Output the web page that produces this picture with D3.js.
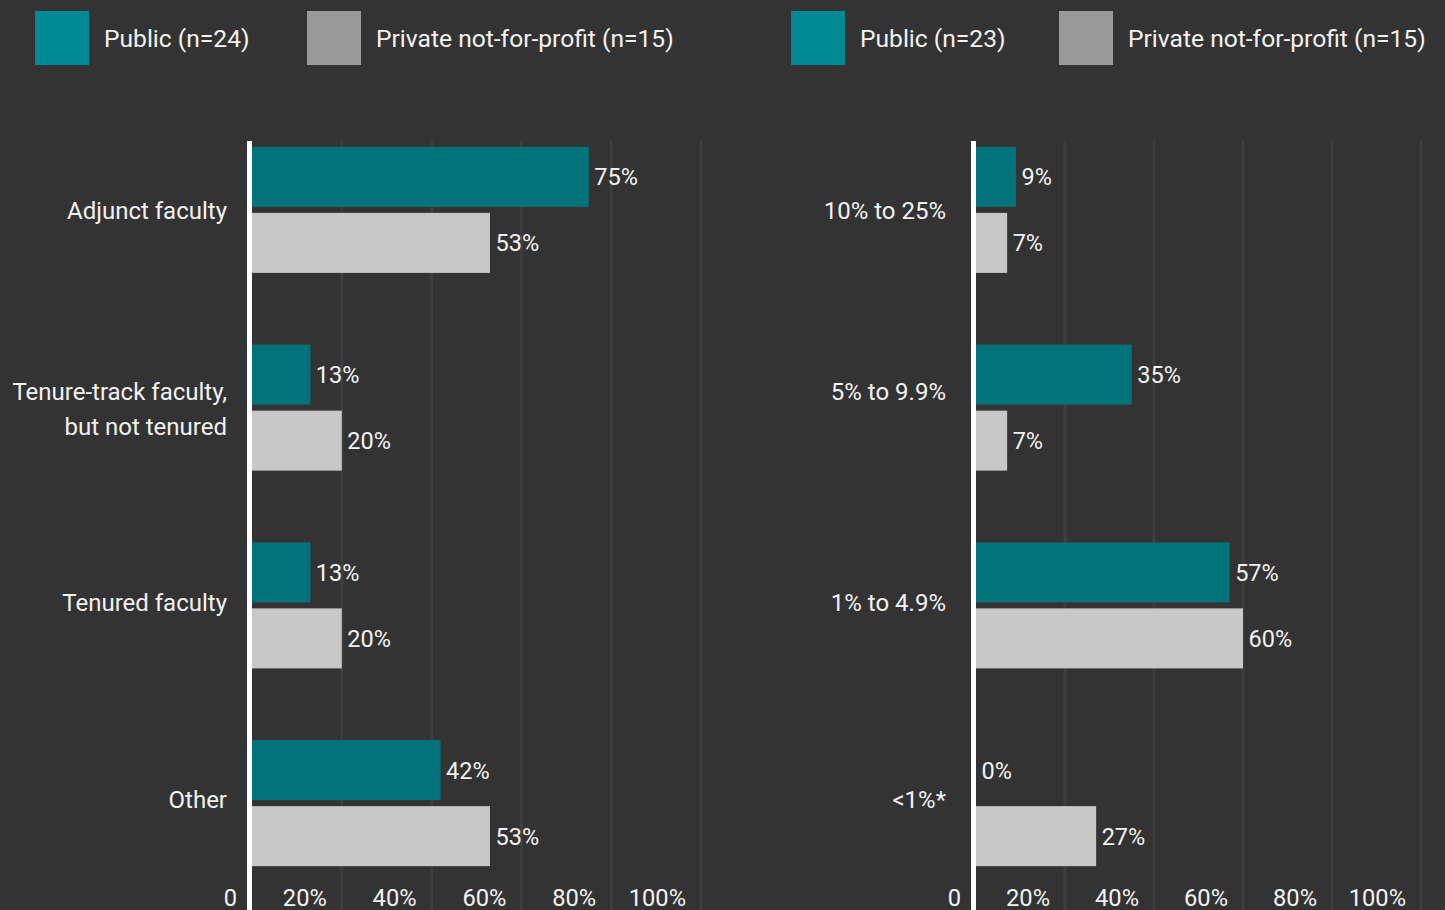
<!DOCTYPE html>
<html>
<head>
<meta charset="utf-8">
<script src="https://cdn.jsdelivr.net/npm/d3@7"></script>
<style>
  html, body { margin: 0; padding: 0; background: #333333; }
  svg { display: block; font-family: Roboto, "Noto Sans", sans-serif; }
</style>
</head>
<body>
<div id="chart"></div>
<script>
// Данные: левая панель
const leftCategories = ["Adjunct faculty", "Tenure-track faculty,\nbut not tenured", "Tenured faculty", "Other"];
const leftPublic = [75, 13, 13, 42];
const leftPrivate = [53, 20, 20, 53];
const leftSeries = ["Public (n=24)", "Private not-for-profit (n=15)"];

// Данные: правая панель
const rightCategories = ["10% to 25%", "5% to 9.9%", "1% to 4.9%", "<1%*"];
const rightPublic = [9, 35, 57, 0];
const rightPrivate = [7, 7, 60, 27];
const rightSeries = ["Public (n=23)", "Private not-for-profit (n=15)"];

const tickValues = [0, 20, 40, 60, 80, 100];
const tickLabels = ["0", "20%", "40%", "60%", "80%", "100%"];

const barColors = ["#02737A", "#C8C8C8"];
const legendColors = ["#008A93", "#999999"];

// Смещение подписей категорий относительно центра группы
const labelShift = [0, -16, -3.5, -3.5];

const width = 1445;
const height = 910;

const svg = d3.select('#chart').append('svg')
    .attr('width', width)
    .attr('height', height);

svg.append('rect')
    .attr('width', width)
    .attr('height', height)
    .attr('fill', '#333333');

// Функция для рисования одной панели
function drawPanel(opts) {
    const g = svg.append('g');
    const keys = ['pub', 'priv'];
    const rows = opts.categories.map((c, i) => ({cat: c, idx: i, pub: opts.pub[i], priv: opts.priv[i]}));

    const x = d3.scaleLinear().domain([0, 100]).range([opts.x0, opts.x1]);

    const y = d3.scaleBand()
        .domain(opts.categories)
        .range([111, 902])
        .paddingInner(0.3626)
        .paddingOuter(0.1813);

    const yInner = d3.scaleBand()
        .domain(keys)
        .range([0, y.bandwidth()])
        .paddingInner(6 / 66);

    // сетка
    g.selectAll('.grid')
        .data(tickValues.slice(1))
        .enter()
        .append('line')
        .attr('x1', d => x(d))
        .attr('x2', d => x(d))
        .attr('y1', 141)
        .attr('y2', height)
        .style('stroke', '#3E3E3E')
        .style('stroke-width', 3);

    // подписи оси X
    g.selectAll('.x-label')
        .data(tickValues)
        .enter()
        .append('text')
        .attr('x', d => x(d) - 15)
        .attr('y', 906)
        .attr('text-anchor', 'end')
        .text((d, i) => tickLabels[i])
        .style('fill', '#F2F2F2')
        .style('font-size', '23.7px');

    // столбцы
    const groups = g.selectAll('.grp')
        .data(rows)
        .enter()
        .append('g')
        .attr('transform', d => `translate(0,${y(d.cat)})`);

    groups.selectAll('rect')
        .data(d => keys.map((k, i) => ({k, i, v: d[k]})))
        .enter()
        .append('rect')
        .attr('x', x(0))
        .attr('y', d => yInner(d.k))
        .attr('width', d => x(d.v) - x(0))
        .attr('height', yInner.bandwidth())
        .attr('fill', d => barColors[d.i]);

    groups.selectAll('.val')
        .data(d => keys.map((k, i) => ({k, i, v: d[k]})))
        .enter()
        .append('text')
        .attr('x', d => x(d.v) + 5.5)
        .attr('y', d => yInner(d.k) + yInner.bandwidth() / 2)
        .attr('dy', '0.36em')
        .text(d => d.v + '%')
        .style('fill', '#F2F2F2')
        .style('font-size', '23.5px');

    // подписи категорий
    groups.append('text')
        .attr('text-anchor', 'end')
        .style('fill', '#F2F2F2')
        .style('font-size', '24px')
        .each(function (d) {
            const lines = d.cat.split('\n');
            const t = d3.select(this);
            const top = lines.length > 1
                ? y.bandwidth() / 2 - 16.5
                : y.bandwidth() / 2 + labelShift[d.idx];
            lines.forEach((line, i) => {
                t.append('tspan')
                    .attr('x', opts.labelX)
                    .attr('y', top + i * 35)
                    .attr('dy', '0.36em')
                    .text(line);
            });
        });

    // ось
    g.append('line')
        .attr('x1', x(0) - 2.5)
        .attr('x2', x(0) - 2.5)
        .attr('y1', 141)
        .attr('y2', height)
        .style('stroke', '#FFFFFF')
        .style('stroke-width', 5);

    // легенда
    const leg = g.selectAll('.legend')
        .data(opts.series)
        .enter()
        .append('g')
        .attr('transform', (d, i) => `translate(${opts.legendX[i]},11)`);

    leg.append('rect')
        .attr('width', 54)
        .attr('height', 54)
        .attr('fill', (d, i) => legendColors[i]);

    leg.append('text')
        .attr('x', 69)
        .attr('y', 27)
        .attr('dy', '0.36em')
        .text(d => d)
        .style('fill', '#F2F2F2')
        .style('font-size', '24.6px');
}

drawPanel({
    categories: leftCategories, pub: leftPublic, priv: leftPrivate, series: leftSeries,
    x0: 252, x1: 701, labelX: 227, legendX: [35, 307]
});

drawPanel({
    categories: rightCategories, pub: rightPublic, priv: rightPrivate, series: rightSeries,
    x0: 976, x1: 1421, labelX: 946, legendX: [791, 1059]
});
</script>
</body>
</html>
